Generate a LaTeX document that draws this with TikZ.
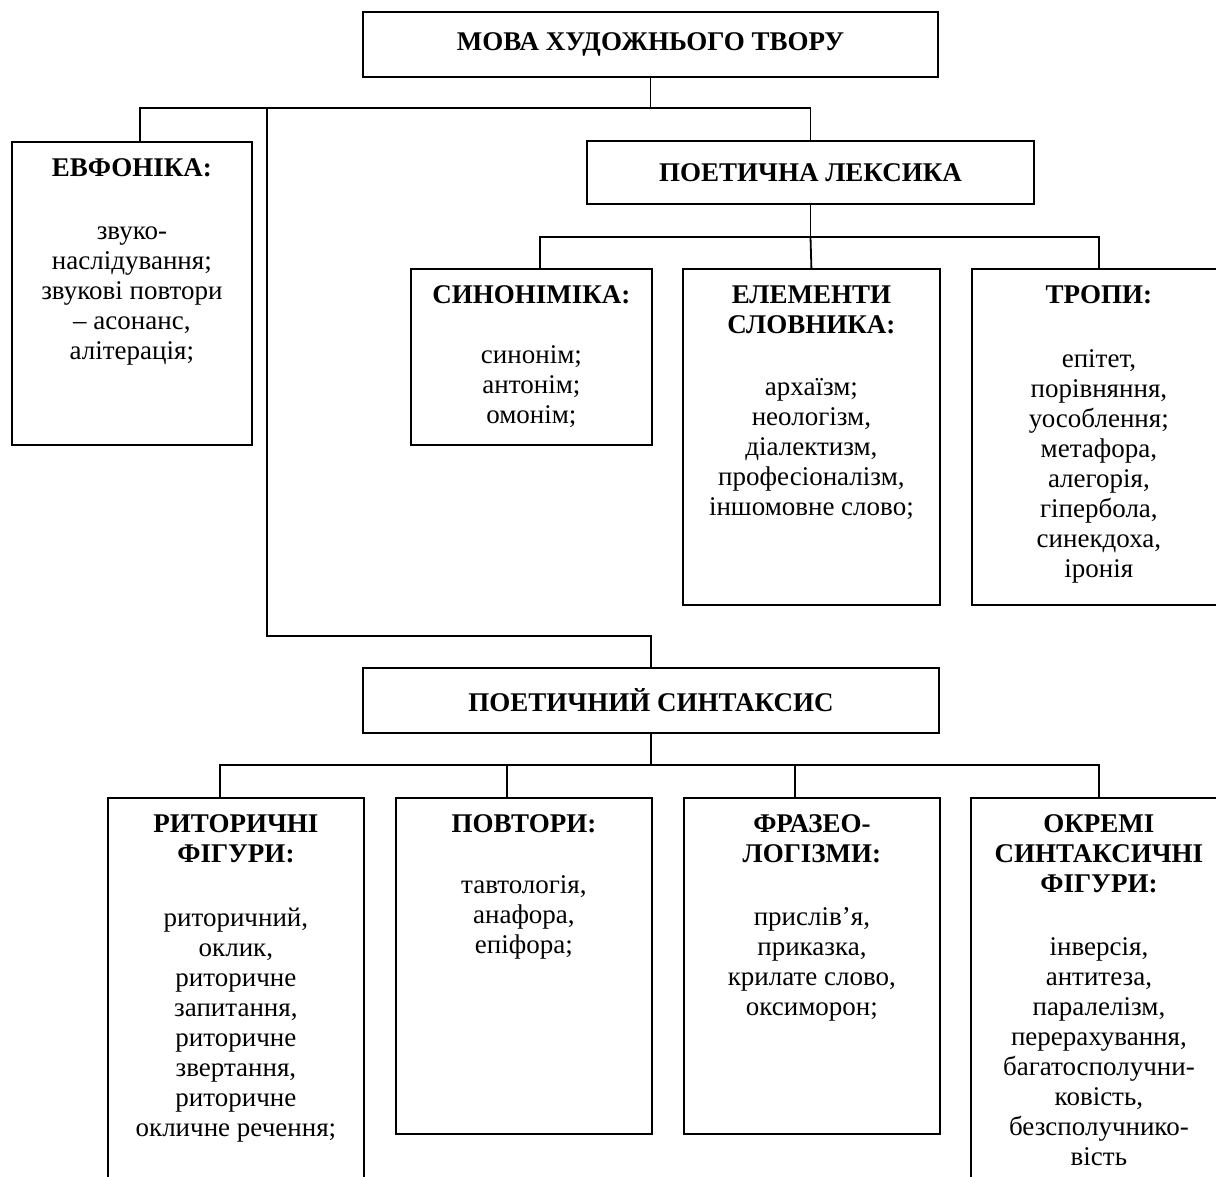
\documentclass[tikz,border=0pt]{standalone}
\usepackage{fontspec}
\setmainfont{Liberation Serif}
\usepackage{tikz}

\newcommand{\boxtext}[3]{\parbox[c][#2][t]{#1}{\centering\rule{0pt}{35pt}#3}}

\begin{document}
\begin{tikzpicture}[x=1pt,y=-1pt,
  every node/.style={font=\fontsize{27}{30}\selectfont},
  box/.style={draw,line width=1.8pt,inner sep=0pt,anchor=north west},
  head/.style={draw,line width=1.8pt,inner sep=0pt,font=\fontsize{27}{30}\selectfont\bfseries},
  link/.style={line width=1.8pt}]
\useasboundingbox (0,0) rectangle (1216,1176);

\node[head,minimum width=575pt,minimum height=65pt] (mova) at (650.5,44.5) {МОВА ХУДОЖНЬОГО ТВОРУ};
\node[head,minimum width=447pt,minimum height=63pt] (leks) at (810.5,172.5) {ПОЕТИЧНА ЛЕКСИКА};
\node[head,minimum width=576pt,minimum height=65pt] (synt) at (651,700.5) {ПОЕТИЧНИЙ СИНТАКСИС};

\node[box] (evf) at (11,141) {\boxtext{240pt}{303pt}{\textbf{ЕВФОНІКА:}\\[33pt]
  звуко-\\наслідування;\\звукові повтори\\-- асонанс,\\алітерація;}};
\node[box] (syn) at (410,268) {\boxtext{241pt}{176pt}{\textbf{СИНОНІМІКА:}\\[30pt]
  синонім;\\антонім;\\омонім;}};
\node[box] (elem) at (682,268) {\boxtext{257pt}{336pt}{\textbf{ЕЛЕМЕНТИ}\\\textbf{СЛОВНИКА:}\\[32pt]
  архаїзм;\\неологізм,\\діалектизм,\\професіоналізм,\\іншомовне слово;}};
\node[box] (trop) at (971,268) {\boxtext{254pt}{336pt}{\textbf{ТРОПИ:}\\[34pt]
  епітет,\\порівняння,\\уособлення;\\метафора,\\алегорія,\\гіпербола,\\синекдоха,\\іронія}};

\node[box] (ryt) at (107,797) {\boxtext{256pt}{390pt}{\textbf{РИТОРИЧНІ}\\\textbf{ФІГУРИ:}\\[34pt]
  риторичний,\\оклик,\\риторичне\\запитання,\\риторичне\\звертання,\\риторичне\\окличне речення;}};
\node[box] (povt) at (395,797) {\boxtext{256pt}{336pt}{\textbf{ПОВТОРИ:}\\[31pt]
  тавтологія,\\анафора,\\епіфора;}};
\node[box] (fraz) at (683,797) {\boxtext{256pt}{336pt}{\textbf{ФРАЗЕО-}\\\textbf{ЛОГІЗМИ:}\\[33pt]
  прислів’я,\\приказка,\\крилате слово,\\оксиморон;}};
\node[box] (okr) at (970,797) {\boxtext{256pt}{390pt}{\textbf{ОКРЕМІ}\\\textbf{СИНТАКСИЧНІ}\\\textbf{ФІГУРИ:}\\[33pt]
  інверсія,\\антитеза,\\паралелізм,\\перерахування,\\багатосполучни-\\ковість,\\безсполучнико-\\вість}};

\coordinate (hub1) at (650.5,108);
\coordinate (drop) at (267,108);
\coordinate (bend) at (267,636);
\coordinate (hub2) at (810.5,237);
\coordinate (hub3) at (651,765);

\draw[link] (mova.south) -- (hub1);
\draw[link] ([xshift=8pt]evf.north) |- (hub1) -| (leks.north);
\draw[link] (drop) -- (bend) -| (synt.north);
\draw[link] (leks.south) -- (hub2);
\draw[link] ([xshift=8.5pt]syn.north) |- (hub2) -| (trop.north);
\draw[link] (elem.north) -- (hub2);
\draw[link] (synt.south) -- (hub3);
\draw[link] ([xshift=-16pt]ryt.north) |- (hub3) -| (okr.north);
\draw[link] ([xshift=-17pt]povt.north) -- ([xshift=-17pt]povt.north |- hub3);
\draw[link] ([xshift=-17pt]fraz.north) -- ([xshift=-17pt]fraz.north |- hub3);
\end{tikzpicture}
\end{document}
